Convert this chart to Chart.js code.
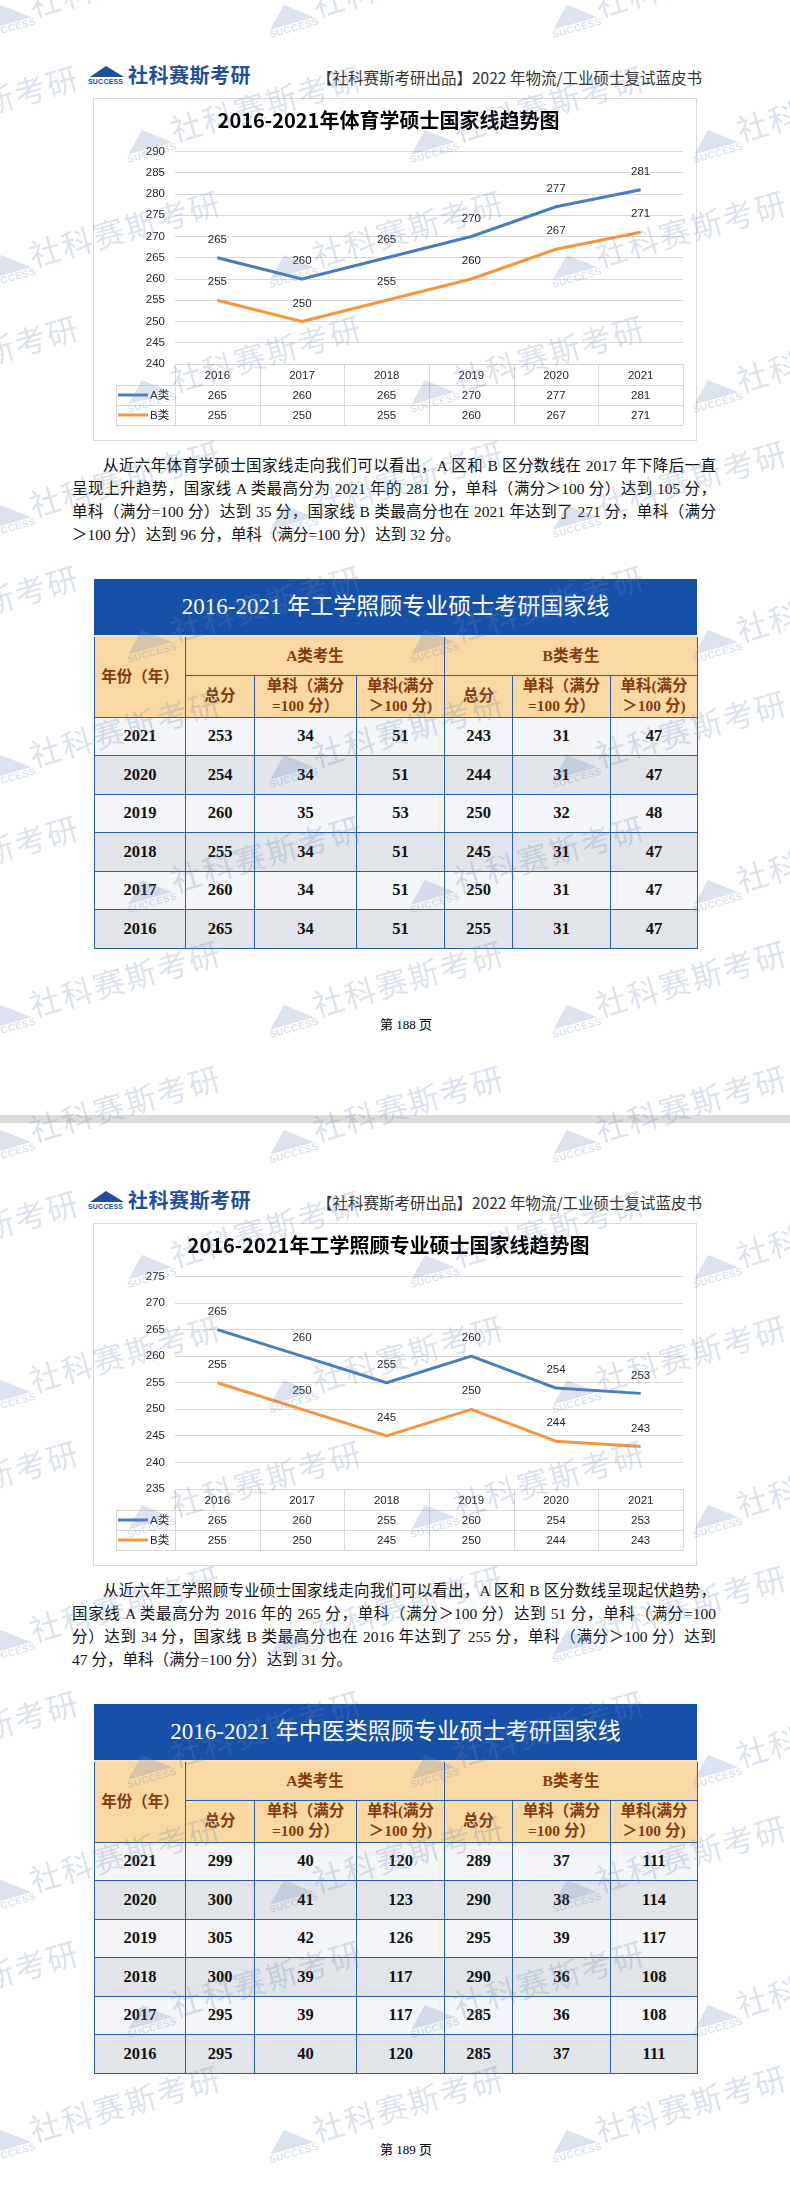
<!DOCTYPE html>
<html>
<head>
<meta charset="utf-8">
<script src="https://cdn.jsdelivr.net/npm/chart.js@4.4.0/dist/chart.umd.min.js"></script>
<style>
body{margin:0;background:#fff;}
#page{position:relative;width:790px;height:2210px;overflow:hidden;background:#fff;font-family:"Liberation Serif","Noto Sans CJK SC",serif;}
.abs{position:absolute;}
.sep{left:0;width:790px;height:8px;background:#dcdcdc;z-index:3;}
.logo{width:170px;height:24px;color:#1f4f9c;}
.logo .tri{position:absolute;left:2px;top:0;}
.logo .suc{position:absolute;left:0;top:12px;font:bold 7px "Liberation Sans";letter-spacing:0.2px;}
.logo .name{position:absolute;left:40px;top:-3px;font:bold 20px "Noto Sans CJK SC";line-height:24px;letter-spacing:0.5px;}
.htext{font-family:"Noto Sans CJK SC";font-size:15.5px;line-height:18px;color:#333;white-space:nowrap;}
.box{width:602px;height:341px;border:1px solid #d9d9d9;background:#fff;}
.box .wrap{position:relative;width:602px;height:341px;}
.para{width:644px;font-size:15.5px;line-height:23px;color:#111;}
.para div{text-align:justify;text-align-last:justify;white-space:nowrap;}
.para div.first{padding-left:31px;}
.para div.last{text-align-last:left;}
.tbar{width:603px;height:56px;background:#1550a9;color:#fff;font-size:23px;line-height:56px;text-align:center;border-bottom:2px solid #fbe1b8;}
table.tb{border-collapse:collapse;table-layout:fixed;width:603px;}
table.tb td{border:1px solid #2a5bb5;padding:0;text-align:center;vertical-align:middle;}
table.tb td.hd{background:#f9d8a4;color:#843c0c;font-weight:bold;font-size:15.5px;line-height:20px;}
table.tb tr.first td{border-top:none;}
table.tb td.num{font-weight:bold;font-size:16.5px;color:#111;}
tr.light td{background:#f3f5f8;}
tr.dark td{background:#e1e5e9;}
.foot{width:100px;text-align:center;font-size:13px;line-height:18px;color:#000;}
#marks{position:absolute;left:0;top:0;width:790px;height:2210px;pointer-events:none;z-index:5;}
.wm{position:absolute;width:300px;height:36px;transform-origin:0 100%;transform:rotate(-16deg);color:rgba(110,135,185,0.24);}
.wm svg{position:absolute;left:2px;top:6px;}
.wm .s{position:absolute;left:0;top:25px;font:bold 10px "Liberation Sans";letter-spacing:0.4px;}
.wm .t{position:absolute;left:50px;top:-4px;font-family:"Noto Sans CJK SC";font-size:31px;line-height:36px;letter-spacing:2px;white-space:nowrap;}
</style>
</head>
<body>
<div id="page"><div id="marks"></div></div>
<script>
const years = ['2016', '2017', '2018', '2019', '2020', '2021'];
const sportA = [265, 260, 265, 270, 277, 281];
const sportB = [255, 250, 255, 260, 267, 271];
const engA = [265, 260, 255, 260, 254, 253];
const engB = [255, 250, 245, 250, 244, 243];

const tableYears = ['2021', '2020', '2019', '2018', '2017', '2016'];
const engTotalA = [253, 254, 260, 255, 260, 265];
const engEqA = [34, 34, 35, 34, 34, 34];
const engOverA = [51, 51, 53, 51, 51, 51];
const engTotalB = [243, 244, 250, 245, 250, 255];
const engEqB = [31, 31, 32, 31, 31, 31];
const engOverB = [47, 47, 48, 47, 47, 47];
const tcmTotalA = [299, 300, 305, 300, 295, 295];
const tcmEqA = [40, 41, 42, 39, 39, 40];
const tcmOverA = [120, 123, 126, 117, 117, 120];
const tcmTotalB = [289, 290, 295, 290, 285, 285];
const tcmEqB = [37, 38, 39, 36, 36, 37];
const tcmOverB = [111, 114, 117, 108, 108, 111];

const para1 = [
  '从近六年体育学硕士国家线走向我们可以看出，A 区和 B 区分数线在 2017 年下降后一直',
  '呈现上升趋势，国家线 A 类最高分为 2021 年的 281 分，单科（满分＞100 分）达到 105 分，',
  '单科（满分=100 分）达到 35 分，国家线 B 类最高分也在 2021 年达到了 271 分，单科（满分',
  '＞100 分）达到 96 分，单科（满分=100 分）达到 32 分。'
];
const para2 = [
  '从近六年工学照顾专业硕士国家线走向我们可以看出，A 区和 B 区分数线呈现起伏趋势，',
  '国家线 A 类最高分为 2016 年的 265 分，单科（满分＞100 分）达到 51 分，单科（满分=100',
  '分）达到 34 分，国家线 B 类最高分也在 2016 年达到了 255 分，单科（满分＞100 分）达到',
  '47 分，单科（满分=100 分）达到 31 分。'
];

const blue = '#4a7dbf';
const orange = '#f6953f';
const textFont = '11.5px "Liberation Sans", "Noto Sans CJK SC"';

const valueLabels = {
  id: 'valueLabels',
  afterDatasetsDraw(chart) {
    let ctx = chart.ctx;
    ctx.save();
    ctx.font = textFont;
    ctx.fillStyle = '#262626';
    ctx.textAlign = 'center';
    ctx.textBaseline = 'middle';
    chart.data.datasets.forEach(function(ds, i){
      chart.getDatasetMeta(i).data.forEach(function(pt, j){
        ctx.fillText(ds.data[j], pt.x, pt.y - 18);
      });
    });
    ctx.restore();
  }
};

// excel style data table under the plot
const dataTable = {
  id: 'dataTable',
  afterDraw(chart) {
    let ctx = chart.ctx;
    let xs = chart.scales.x;
    let area = chart.chartArea;
    let step = xs.getPixelForValue(1) - xs.getPixelForValue(0);
    let top = Math.round(area.bottom);
    let rows = [top, top + 21, top + 41, top + 61];
    let legLeft = Math.round(area.left) - 59;
    ctx.save();
    ctx.strokeStyle = '#d9d9d9';
    ctx.lineWidth = 1;
    ctx.beginPath();
    ctx.moveTo(area.left, rows[0] + 0.5);
    ctx.lineTo(area.right, rows[0] + 0.5);
    for (let r = 1; r < 4; r++) {
      ctx.moveTo(legLeft, rows[r] + 0.5);
      ctx.lineTo(area.right, rows[r] + 0.5);
    }
    for (let i = 0; i <= years.length; i++) {
      let x = Math.round(xs.getPixelForValue(i) - step / 2) + 0.5;
      ctx.moveTo(x, rows[0]);
      ctx.lineTo(x, rows[3]);
    }
    ctx.moveTo(legLeft + 0.5, rows[1]);
    ctx.lineTo(legLeft + 0.5, rows[3]);
    ctx.stroke();

    ctx.font = textFont;
    ctx.fillStyle = '#262626';
    ctx.textAlign = 'center';
    ctx.textBaseline = 'middle';
    years.forEach(function(y, i){
      let x = xs.getPixelForValue(i);
      ctx.fillText(y, x, (rows[0] + rows[1]) / 2 + 1);
      ctx.fillText(chart.data.datasets[0].data[i], x, (rows[1] + rows[2]) / 2 + 1);
      ctx.fillText(chart.data.datasets[1].data[i], x, (rows[2] + rows[3]) / 2 + 1);
    });
    chart.data.datasets.forEach(function(ds, i){
      let y = (rows[i + 1] + rows[i + 2]) / 2;
      ctx.strokeStyle = ds.borderColor;
      ctx.lineWidth = 3;
      ctx.beginPath();
      ctx.moveTo(legLeft + 2, y);
      ctx.lineTo(legLeft + 32, y);
      ctx.stroke();
      ctx.textAlign = 'left';
      ctx.fillText(ds.label, legLeft + 34, y + 1);
    });
    ctx.restore();
  }
};

function createGraph(name, title, dataA, dataB, min, max) {
  let ctx = document.getElementById(name);
  new Chart(ctx, {
    type: 'line',
    data: {
      labels: years,
      datasets: [
        {label: 'A类', data: dataA, borderColor: blue, backgroundColor: blue, borderWidth: 3, pointRadius: 0, tension: 0, borderJoinStyle: 'round'},
        {label: 'B类', data: dataB, borderColor: orange, backgroundColor: orange, borderWidth: 3, pointRadius: 0, tension: 0, borderJoinStyle: 'round'}
      ]
    },
    options: {
      responsive: true,
      maintainAspectRatio: false,
      animation: false,
      layout: {padding: {left: 0, right: 13, top: 0, bottom: 0}},
      plugins: {
        legend: {display: false},
        tooltip: {enabled: false},
        title: {
          display: true,
          text: title,
          color: '#000',
          font: {family: '"Noto Sans CJK SC"', size: 20, weight: 'bold', lineHeight: 1.2},
          padding: {top: 9, bottom: 19.5}
        }
      },
      scales: {
        x: {
          offset: true,
          grid: {display: false},
          border: {display: false},
          ticks: {display: false},
          afterFit: function(scale){ scale.height = 76; }
        },
        y: {
          min: min,
          max: max,
          ticks: {stepSize: 5, padding: 10, color: '#262626', font: {family: '"Liberation Sans"', size: 11.5}},
          grid: {color: '#d9d9d9', drawTicks: false},
          border: {display: false},
          afterFit: function(scale){ scale.width = 81; }
        }
      }
    },
    plugins: [valueLabels, dataTable]
  });
}

function tableHtml(title, cols) {
  let html = '<div class="tbar">' + title + '</div>';
  html += '<table class="tb"><colgroup>';
  [91, 69, 102, 88, 68, 98, 87].forEach(function(w){ html += '<col style="width:' + w + 'px">'; });
  html += '</colgroup>';
  html += '<tr class="first" style="height:38px"><td class="hd" rowspan="2">年份（年）</td><td class="hd" colspan="3">A类考生</td><td class="hd" colspan="3">B类考生</td></tr>';
  let sub = '<td class="hd">总分</td><td class="hd">单科（满分<br>=100 分）</td><td class="hd">单科(满分<br>＞100 分)</td>';
  html += '<tr style="height:42px">' + sub + sub + '</tr>';
  tableYears.forEach(function(y, i){
    html += '<tr class="' + (i % 2 == 0 ? 'light' : 'dark') + '" style="height:38.5px"><td class="num">' + y + '</td>';
    cols.forEach(function(c){ html += '<td class="num">' + c[i] + '</td>'; });
    html += '</tr>';
  });
  return html + '</table>';
}

function paraHtml(lines) {
  let html = '';
  lines.forEach(function(l, i){
    let cls = (i == 0 ? 'first' : '') + (i == lines.length - 1 ? ' last' : '');
    html += '<div class="' + cls + '">' + l + '</div>';
  });
  return html;
}

const logoHtml = '<svg class="tri" width="34" height="11"><polygon points="0,11 16,0 34,11" fill="#1f4f9c"/></svg>' +
  '<span class="suc">SUCCESS</span><span class="name">社科赛斯考研</span>';

function buildPage(top, p) {
  let page = document.getElementById('page');
  let add = function(cls, x, y, html){
    let d = document.createElement('div');
    d.className = 'abs ' + cls;
    d.style.left = x + 'px';
    d.style.top = (top + y) + 'px';
    d.innerHTML = html;
    page.appendChild(d);
    return d;
  };
  add('logo', 88, 66, logoHtml);
  add('htext', 317, 68, '【社科赛斯考研出品】2022 年物流/工业硕士复试蓝皮书');
  add('box', 93, 98, '<div class="wrap"><canvas id="' + p.chartId + '"></canvas></div>');
  add('para', 72, 454, paraHtml(p.para));
  add('tbl', 94, 579, tableHtml(p.tableTitle, p.cols));
  add('foot', 356, 1016, p.foot);
}

buildPage(0, {
  chartId: 'chart1', para: para1, foot: '第 188 页',
  tableTitle: '2016-2021 年工学照顾专业硕士考研国家线',
  cols: [engTotalA, engEqA, engOverA, engTotalB, engEqB, engOverB]
});
buildPage(1125, {
  chartId: 'chart2', para: para2, foot: '第 189 页',
  tableTitle: '2016-2021 年中医类照顾专业硕士考研国家线',
  cols: [tcmTotalA, tcmEqA, tcmOverA, tcmTotalB, tcmEqB, tcmOverB]
});

let sep = document.createElement('div');
sep.className = 'abs sep';
sep.style.top = '1115px';
document.getElementById('page').appendChild(sep);

// watermark grid, same on both pages
let marks = document.getElementById('marks');
[0, 1125].forEach(function(pt){
  for (let r = 0; r < 9; r++) {
    let y0 = pt + 40 + 125 * r;
    if (pt == 0 && y0 > 1125) continue;
    let xs = (r % 2 == 0) ? -12 : 129;
    for (let k = -1; k < 4; k++) {
      let w = document.createElement('div');
      w.className = 'wm';
      w.style.left = (xs + 283 * k) + 'px';
      w.style.top = (y0 - 36) + 'px';
      w.innerHTML = '<svg width="46" height="20"><polygon points="0,20 20,0 46,20" fill="currentColor"/></svg>' +
        '<span class="s">SUCCESS</span><span class="t">社科赛斯考研</span>';
      marks.appendChild(w);
    }
  }
});

createGraph('chart1', '2016-2021年体育学硕士国家线趋势图', sportA, sportB, 240, 290);
createGraph('chart2', '2016-2021年工学照顾专业硕士国家线趋势图', engA, engB, 235, 275);
</script>
</body>
</html>
